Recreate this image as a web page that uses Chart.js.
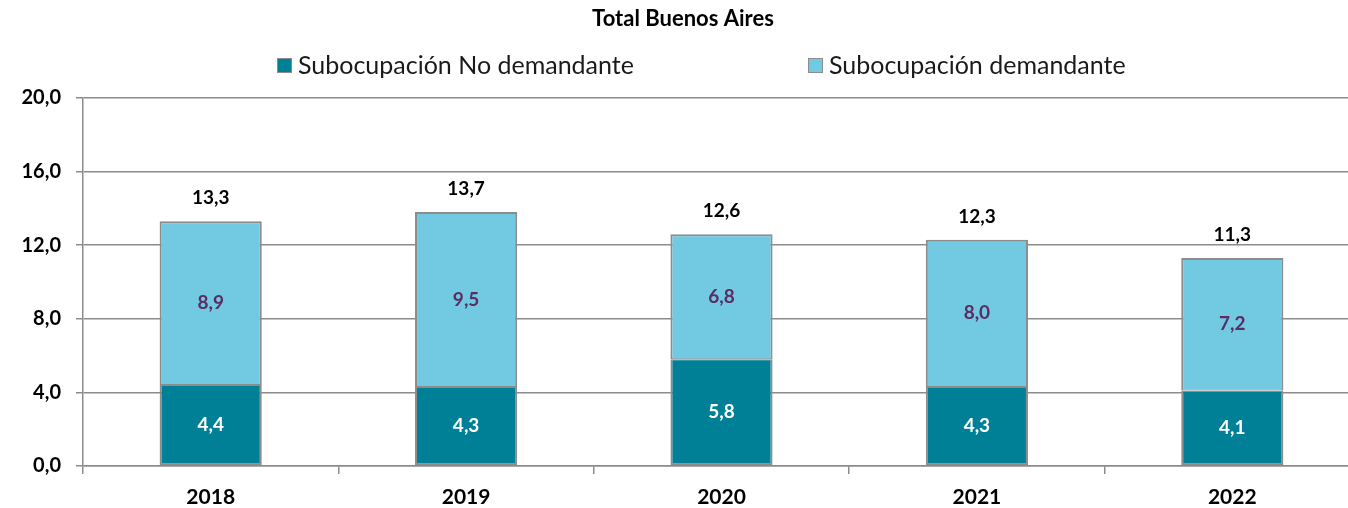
<!DOCTYPE html>
<html>
<head>
<meta charset="utf-8">
<script src="https://cdn.jsdelivr.net/npm/chart.js@4/dist/chart.umd.min.js"></script>
<style>
  html, body { margin: 0; padding: 0; background: #fff; overflow: hidden; }
  #wrap { position: relative; width: 1362px; height: 508px; }
</style>
</head>
<body>
<div id="wrap"><canvas id="chart"></canvas></div>
<script>
const years = ['2018', '2019', '2020', '2021', '2022'];
const noDemandante = [4.4, 4.3, 5.8, 4.3, 4.1];
const demandante = [8.9, 9.5, 6.8, 8.0, 7.2];
const totals = [13.3, 13.7, 12.6, 12.3, 11.3];
const yTicks = [0, 4, 8, 12, 16, 20];

const FONT = 'Lato, "Open Sans", sans-serif';
const fmt = (v) => v.toFixed(1).replace('.', ',');

// title, legend and value labels
const decorations = {
  id: 'decorations',
  afterDatasetsDraw(chart) {
    const ctx = chart.ctx;
    ctx.save();
    ctx.textBaseline = 'middle';
    ctx.textAlign = 'center';
    ctx.fillStyle = '#000';
    ctx.font = 'bold 22px ' + FONT;
    ctx.fillText('Total Buenos Aires', 683, 19);

    // legend
    ctx.font = '25px ' + FONT;
    const items = [{ x: 277, ds: 0 }, { x: 808, ds: 1 }];
    items.forEach((it) => {
      const ds = chart.data.datasets[it.ds];
      ctx.fillStyle = ds.backgroundColor;
      ctx.fillRect(it.x, 58, 15, 15);
      ctx.strokeStyle = '#8c8c8c';
      ctx.lineWidth = 1;
      ctx.strokeRect(it.x + 0.5, 58.5, 14, 14);
      ctx.fillStyle = '#1a1a1a';
      ctx.textAlign = 'left';
      ctx.fillText(ds.label, it.x + 21, 66);
    });

    // segment labels
    ctx.textAlign = 'center';
    ctx.font = 'bold 19px ' + FONT;
    const m0 = chart.getDatasetMeta(0);
    const m1 = chart.getDatasetMeta(1);
    m0.data.forEach((bar, i) => {
      ctx.fillStyle = '#ffffff';
      ctx.fillText(fmt(noDemandante[i]), bar.x, (bar.y + bar.base) / 2);
    });
    m1.data.forEach((bar, i) => {
      ctx.fillStyle = '#5a2d64';
      ctx.fillText(fmt(demandante[i]), bar.x, (bar.y + bar.base) / 2);
      ctx.fillStyle = '#000';
      ctx.fillText(fmt(totals[i]), bar.x, bar.y - 23);
    });
    ctx.restore();
  }
};

new Chart(document.getElementById('chart'), {
  type: 'bar',
  data: {
    labels: years,
    datasets: [
      {
        label: 'Subocupación No demandante',
        data: noDemandante,
        backgroundColor: '#008096',
        borderColor: '#8c8c8c',
        borderWidth: { left: 2, right: 2, top: 1, bottom: 2 },
        borderSkipped: false,
        barPercentage: 0.4,
        categoryPercentage: 1
      },
      {
        label: 'Subocupación demandante',
        data: demandante,
        backgroundColor: '#72c9e2',
        borderColor: '#8c8c8c',
        borderWidth: { left: 2, right: 2, top: 2, bottom: 1 },
        borderSkipped: false,
        barPercentage: 0.4,
        categoryPercentage: 1
      }
    ]
  },
  options: {
    responsive: true,
    maintainAspectRatio: false,
    animation: false,
    layout: { padding: { top: 98, right: 2, left: 0, bottom: 0 } },
    plugins: {
      legend: { display: false },
      title: { display: false },
      tooltip: { enabled: false }
    },
    scales: {
      x: {
        stacked: true,
        grid: {
          offset: true,
          drawOnChartArea: false,
          drawTicks: true,
          tickLength: 8,
          color: '#8c8c8c',
          lineWidth: 1.5
        },
        border: { color: '#8c8c8c', width: 1.5 },
        ticks: {
          color: '#000',
          font: { family: FONT, size: 21, weight: 'bold' },
          padding: 11
        },
        afterFit(scale) { scale.height = 42; }
      },
      y: {
        stacked: true,
        min: 0,
        max: 20,
        afterBuildTicks(scale) { scale.ticks = yTicks.map((v) => ({ value: v })); },
        grid: {
          color: '#8c8c8c',
          lineWidth: 1.5,
          tickLength: 7
        },
        border: { color: '#8c8c8c', width: 1.5 },
        ticks: {
          color: '#000',
          font: { family: FONT, size: 20, weight: 'bold' },
          padding: 15,
          callback: (v) => fmt(v)
        },
        afterFit(scale) { scale.width = 83; }
      }
    }
  },
  plugins: [decorations]
});
</script>
</body>
</html>
